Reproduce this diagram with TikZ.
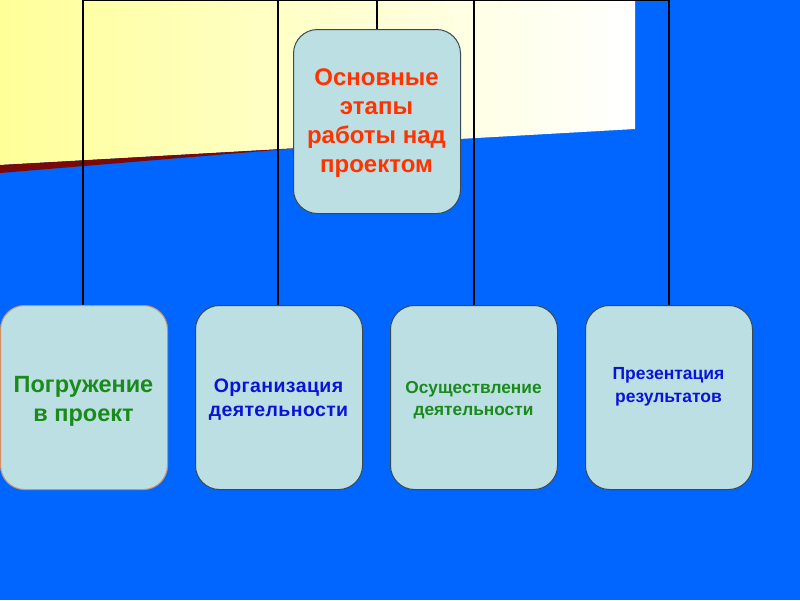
\documentclass[tikz,border=0pt]{standalone}
\usepackage{fontspec}
\setmainfont{Liberation Sans}
\definecolor{bgblue}{HTML}{0066FF}
\definecolor{boxfill}{HTML}{BBDFE3}
\definecolor{boxline}{HTML}{3A4A50}
\definecolor{tanline}{HTML}{D09060}
\definecolor{titlered}{HTML}{FF3300}
\definecolor{txtgreen}{HTML}{1A8A1A}
\definecolor{txtblue}{HTML}{0A14D8}
\definecolor{paleyellow}{HTML}{FFFF99}
\definecolor{darkred}{HTML}{7A0A0A}
\pgfdeclarelayer{backdrop}
\pgfdeclarelayer{wires}
\pgfsetlayers{backdrop,wires,main}
\begin{document}
\begin{tikzpicture}[x=1pt,y=-1pt,
  stagebox/.style={draw=boxline,line width=1pt,fill=boxfill,rounded corners=24pt,
    minimum width=167pt,minimum height=184pt,inner sep=0pt,anchor=north west},
  label/.style={font=\bfseries,align=center,inner sep=0pt},
  link/.style={black,line width=1.8pt}]
\useasboundingbox (0,0) rectangle (800,600);
\begin{pgfonlayer}{backdrop}
\fill[bgblue] (0,0) rectangle (800,600);
\shade[left color=paleyellow,right color=white] (0,0) -- (635,0) -- (635,129) -- (0,165) -- cycle;
\fill[darkred] (0,165) -- (300,148) -- (0,173) -- cycle;
\end{pgfonlayer}
% boxes
\node[stagebox] (top) at (293,29) {};
\node[stagebox,draw=tanline] (b1) at (0,305) {};
\node[stagebox] (b2) at (195,305) {};
\node[stagebox] (b3) at (390,305) {};
\node[stagebox] (b4) at (585,305) {};
% texts
\node[label,text=titlered,font=\bfseries\fontsize{24}{29}\selectfont] (tt) at (376.5,123)
  {Основные\\этапы\\работы над\\проектом};
\node[label,text=txtgreen,font=\bfseries\fontsize{23.5}{29}\selectfont] (l1) at (83.5,401)
  {Погружение\\в проект};
\node[label,text=txtblue,font=\bfseries\fontsize{19.5}{24}\selectfont\addfontfeature{LetterSpace=2}] (l2) at (278.5,400)
  {Организация\\деятельности};
\node[label,text=txtgreen,font=\bfseries\fontsize{17.3}{22}\selectfont] (l3) at (473.5,400)
  {Осуществление\\деятельности};
\node[label,text=txtblue,font=\bfseries\fontsize{17.5}{23}\selectfont] (l4) at (668.5,387)
  {Презентация\\результатов};
% connectors
\coordinate (t1) at (83,0);
\coordinate (t5) at (669,0);
\begin{pgfonlayer}{wires}
\draw[link] (t1) -- (t5);
\draw[link] (t1) -- (t1 |- b1.north);
\draw[link] (278,0) -- (278,305);
\draw[link] (top.north |- t1) -- (top.north);
\draw[link] (474,0) -- (474,305);
\draw[link] (t5) -- (t5 |- b4.north);
\end{pgfonlayer}
\end{tikzpicture}
\end{document}
